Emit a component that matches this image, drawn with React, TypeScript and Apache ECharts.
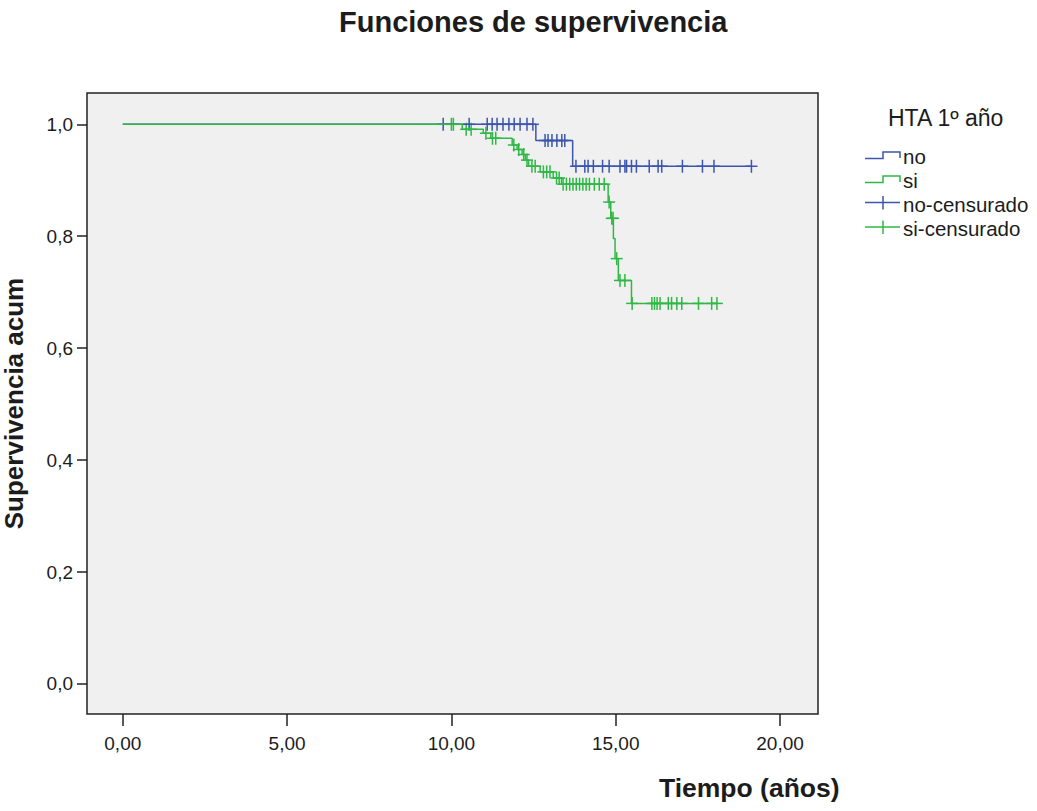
import React, { useEffect, useRef } from "react";
import * as echarts from "echarts";

// ---- data ----
const xTicks = [0, 5, 10, 15, 20];
const yTicks = [0, 0.2, 0.4, 0.6, 0.8, 1.0];

// group "no"
const noEventTimes = [0, 12.57, 13.69];
const noEventSurv = [1, 0.971, 0.925];
const noCensorTimes = [
  9.75, 10.54, 11.09, 11.24, 11.39, 11.57, 11.75, 11.91, 12.09, 12.3, 12.48,
  12.85, 12.94, 13.06, 13.21, 13.36, 13.45,
  13.79, 14.06, 14.16, 14.32, 14.6, 14.8, 15.13, 15.28, 15.33, 15.48, 15.63,
  16.02, 16.29, 16.4, 17.03, 17.64, 17.99, 19.13,
];

// group "si"
const siEventTimes = [
  0, 10.33, 10.97, 11.2, 11.85, 12.0, 12.15, 12.25, 12.35, 12.7, 13.1, 13.35,
  14.77, 14.85, 14.93, 14.98, 15.08, 15.48,
];
const siEventSurv = [
  1, 0.991, 0.984, 0.975, 0.963, 0.955, 0.946, 0.936, 0.925, 0.915, 0.904, 0.893,
  0.861, 0.832, 0.796, 0.76, 0.721, 0.68,
];
const siCensorTimes = [
  10.0, 10.06, 10.45, 10.6, 11.05, 11.25, 11.35, 11.9, 12.05, 12.2, 12.3,
  12.45, 12.55, 12.8, 12.9, 13.0, 13.2, 13.28,
  13.4, 13.5, 13.6, 13.7, 13.8, 13.9, 14.0, 14.1, 14.2, 14.35, 14.5, 14.65,
  14.8, 14.88, 14.92, 15.03, 15.13, 15.28,
  15.5, 16.1, 16.18, 16.26, 16.35, 16.6, 16.7, 16.86, 17.01, 17.52, 17.92, 18.08,
];

const groupNames = ["no", "si"];
const legendTitle = "HTA 1º año";
const chartTitle = "Funciones de supervivencia";
const xName = "Tiempo (años)";
const yName = "Supervivencia acum";

const BLUE = "#3c55ad";
const GREEN = "#2fb845";
const TXT = "#1c1c1c";
const FONT = "'Liberation Sans', Arial, sans-serif";

function survAt(times: number[], surv: number[], t: number) {
  let s = surv[0];
  for (let i = 0; i < times.length; i++) if (times[i] <= t) s = surv[i];
  return s;
}

function stepData(times: number[], surv: number[], censor: number[]) {
  const d = times.map((t, i) => [t, surv[i]]);
  const last = Math.max(...censor);
  d.push([last, survAt(times, surv, last)]);
  return d;
}

function censorData(times: number[], surv: number[], censor: number[]) {
  return censor.map((t) => [t, survAt(times, surv, t)]);
}

function plusRender(color: string) {
  return (params: any, api: any) => {
    const p = api.coord([api.value(0), api.value(1)]);
    return {
      type: "group",
      children: [
        {
          type: "line",
          shape: { x1: p[0] - 6, y1: p[1], x2: p[0] + 6, y2: p[1] },
          style: { stroke: color, lineWidth: 1.5 },
        },
        {
          type: "line",
          shape: { x1: p[0], y1: p[1] - 6.5, x2: p[0], y2: p[1] + 6.5 },
          style: { stroke: color, lineWidth: 1.5 },
        },
      ],
    };
  };
}

export default function App() {
  const ref = useRef<HTMLDivElement>(null);
  useEffect(() => {
    if (!ref.current) return;
    const chart = echarts.init(ref.current, null, { renderer: "svg" });

    const legendX = 865;
    const rows = [156.5, 180.5, 204, 228.5];
    const legendGraphics: any[] = [
      {
        type: "text",
        left: 888,
        top: 106,
        style: { text: legendTitle, fontSize: 23, fontFamily: FONT, fill: TXT },
      },
    ];
    const colors = [BLUE, GREEN];
    const labels = [groupNames[0], groupNames[1], groupNames[0] + "-censurado", groupNames[1] + "-censurado"];
    labels.forEach((lab, i) => {
      const y = rows[i];
      const c = colors[i % 2];
      if (i < 2) {
        legendGraphics.push({
          type: "polyline",
          shape: {
            points: [
              [legendX, y + 2],
              [legendX + 18, y + 2],
              [legendX + 18, y - 4.5],
              [legendX + 35, y - 4.5],
              [legendX + 35, y + 1.5],
            ],
          },
          style: { stroke: c, lineWidth: 1.5, fill: null },
        });
      } else {
        legendGraphics.push({
          type: "line",
          shape: { x1: legendX, y1: y - 1.5, x2: legendX + 35, y2: y - 1.5 },
          style: { stroke: c, lineWidth: 1.5 },
        });
        legendGraphics.push({
          type: "line",
          shape: { x1: legendX + 18, y1: y - 8, x2: legendX + 18, y2: y + 5.5 },
          style: { stroke: c, lineWidth: 1.5 },
        });
      }
      legendGraphics.push({
        type: "text",
        x: 903,
        y: y,
        style: {
          text: lab,
          fontSize: 20.5,
          fontFamily: FONT,
          fill: TXT,
          verticalAlign: "middle",
        },
      });
    });

    chart.setOption({
      animation: false,
      backgroundColor: "#ffffff",
      title: {
        text: chartTitle,
        left: 334,
        top: 2,
        textStyle: { fontSize: 29, fontWeight: "bold", fontFamily: FONT, color: TXT },
      },
      grid: {
        left: 87,
        right: 219,
        top: 93,
        bottom: 97,
        show: true,
        backgroundColor: "#f0f0f0",
        borderColor: "#222222",
        borderWidth: 1.5,
        outerBoundsMode: "none",
        containLabel: false,
      },
      xAxis: {
        type: "value",
        min: -1.089,
        max: 21.156,
        axisLine: { show: false, onZero: false },
        splitLine: { show: false },
        axisTick: {
          show: true,
          customValues: xTicks,
          length: 12,
          lineStyle: { color: "#222", width: 1.5 },
        },
        axisLabel: {
          customValues: xTicks,
          margin: 20,
          fontSize: 19,
          fontFamily: FONT,
          color: TXT,
          formatter: (v: number) => v.toFixed(2).replace(".", ","),
        },
      },
      yAxis: {
        type: "value",
        min: -0.0536,
        max: 1.0559,
        name: yName,
        nameLocation: "middle",
        nameGap: 60,
        nameTextStyle: { fontSize: 26, fontWeight: "bold", fontFamily: FONT, color: TXT },
        axisLine: { show: false, onZero: false },
        splitLine: { show: false },
        axisTick: {
          show: true,
          customValues: yTicks,
          length: 10,
          lineStyle: { color: "#222", width: 1.5 },
        },
        axisLabel: {
          customValues: yTicks,
          margin: 14,
          fontSize: 19,
          fontFamily: FONT,
          color: TXT,
          formatter: (v: number) => v.toFixed(1).replace(".", ","),
        },
      },
      graphic: [
        {
          type: "text",
          left: 659,
          top: 774,
          style: { text: xName, fontSize: 26.5, fontWeight: "bold", fontFamily: FONT, fill: TXT },
        },
        ...legendGraphics,
      ],
      series: [
        {
          name: groupNames[0],
          type: "line",
          step: "end",
          showSymbol: false,
          data: stepData(noEventTimes, noEventSurv, noCensorTimes),
          lineStyle: { color: BLUE, width: 1.5 },
          itemStyle: { color: BLUE },
        },
        {
          name: groupNames[0] + "-censurado",
          type: "custom",
          renderItem: plusRender(BLUE),
          data: censorData(noEventTimes, noEventSurv, noCensorTimes),
        },
        {
          name: groupNames[1],
          type: "line",
          step: "end",
          showSymbol: false,
          data: stepData(siEventTimes, siEventSurv, siCensorTimes),
          lineStyle: { color: GREEN, width: 1.5 },
          itemStyle: { color: GREEN },
        },
        {
          name: groupNames[1] + "-censurado",
          type: "custom",
          renderItem: plusRender(GREEN),
          data: censorData(siEventTimes, siEventSurv, siCensorTimes),
        },
      ],
    });
    return () => chart.dispose();
  }, []);
  return (
    <div
      ref={ref}
      style={{ position: "fixed", left: 0, top: 0, width: 1037, height: 811 }}
    />
  );
}
